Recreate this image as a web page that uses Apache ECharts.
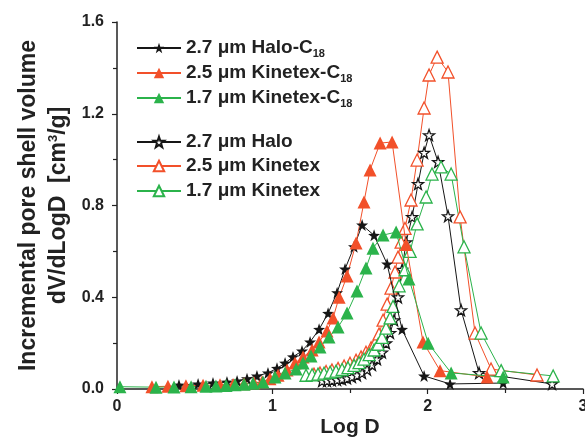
<!DOCTYPE html>
<html><head><meta charset="utf-8">
<script src="https://cdn.jsdelivr.net/npm/echarts@6/dist/echarts.min.js"></script>
<style>html,body{margin:0;padding:0;background:#fff}#c{width:585px;height:437px}</style>
</head><body><div id="c"></div>
<script>
// ---- data (Log D, dV/dLogD) ----
const haloC18_x = [0.399,0.522,0.618,0.708,0.773,0.837,0.901,0.972,1.030,1.082,1.133,1.191,1.243,1.301,1.359,1.417,1.468,1.526,1.578,1.655,1.739,1.835,1.977,2.144,2.486];
const haloC18_y = [0.017,0.022,0.026,0.030,0.035,0.045,0.057,0.070,0.090,0.113,0.140,0.166,0.205,0.260,0.330,0.420,0.523,0.620,0.715,0.670,0.545,0.260,0.057,0.022,0.026];

const kin25C18_x = [0.225,0.328,0.444,0.554,0.663,0.747,0.818,0.882,0.934,0.985,1.037,1.095,1.146,1.198,1.256,1.301,1.352,1.391,1.430,1.481,1.539,1.590,1.629,1.694,1.771,1.861,1.970,2.080,2.383];
const kin25C18_y = [0.010,0.012,0.014,0.016,0.018,0.020,0.023,0.027,0.032,0.045,0.060,0.083,0.113,0.140,0.170,0.205,0.253,0.310,0.400,0.493,0.636,0.815,0.955,1.072,1.077,0.630,0.205,0.080,0.052];

const kin17C18_x = [0.019,0.251,0.367,0.477,0.573,0.637,0.702,0.760,0.818,0.876,0.940,1.017,1.082,1.153,1.198,1.249,1.307,1.365,1.423,1.481,1.545,1.603,1.648,1.713,1.797,1.880,2.003,2.151,2.486];
const kin17C18_y = [0.010,0.008,0.009,0.010,0.012,0.013,0.015,0.018,0.021,0.025,0.031,0.052,0.070,0.087,0.113,0.144,0.183,0.227,0.270,0.331,0.427,0.527,0.614,0.671,0.684,0.480,0.200,0.070,0.052];

const halo_x = [1.320,1.352,1.384,1.417,1.449,1.481,1.513,1.545,1.578,1.610,1.642,1.674,1.706,1.732,1.758,1.784,1.809,1.835,1.861,1.900,1.938,1.977,2.009,2.067,2.131,2.215,2.331,2.801];
const halo_y = [0.035,0.036,0.038,0.040,0.043,0.047,0.053,0.060,0.070,0.085,0.105,0.130,0.160,0.200,0.245,0.300,0.400,0.520,0.640,0.750,0.894,1.030,1.107,0.990,0.754,0.344,0.070,0.022];

const kin25_x = [1.268,1.307,1.346,1.384,1.423,1.462,1.500,1.539,1.571,1.603,1.636,1.661,1.687,1.713,1.739,1.764,1.790,1.809,1.829,1.854,1.893,1.932,1.977,2.009,2.061,2.131,2.209,2.305,2.408,2.704];
const kin25_y = [0.065,0.070,0.076,0.083,0.090,0.100,0.112,0.125,0.140,0.160,0.180,0.200,0.240,0.300,0.370,0.440,0.510,0.575,0.640,0.700,0.824,0.998,1.225,1.369,1.447,1.382,0.750,0.244,0.087,0.061];

const kin17_x = [1.217,1.256,1.294,1.333,1.372,1.410,1.449,1.487,1.526,1.558,1.590,1.623,1.655,1.681,1.706,1.732,1.758,1.777,1.816,1.854,1.887,1.932,1.990,2.028,2.086,2.151,2.234,2.344,2.473,2.808];
const kin17_y = [0.060,0.062,0.065,0.069,0.073,0.078,0.085,0.093,0.103,0.115,0.130,0.150,0.170,0.195,0.225,0.265,0.310,0.360,0.450,0.520,0.600,0.720,0.837,0.937,0.968,0.937,0.620,0.244,0.080,0.057];

const seriesNames = ['2.7 μm Halo-C18','2.5 μm Kinetex-C18','1.7 μm Kinetex-C18','2.7 μm Halo','2.5 μm Kinetex','1.7 μm Kinetex'];
const yTicks = [0, 0.4, 0.8, 1.2, 1.6];
const xTicks = [0, 1, 2, 3];

// ---- styling ----
const BLACK = '#161616', RED = '#f2502a', GREEN = '#2bb34b';
const FONT = 'Arial, "Liberation Sans", sans-serif';
const STAR = 'path://M0,-10 L2.35,-3.24 L9.51,-3.09 L3.8,1.24 L5.88,8.09 L0,4 L-5.88,8.09 L-3.8,1.24 L-9.51,-3.09 L-2.35,-3.24 Z';

function pts(xs, ys){ return xs.map((x,i)=>[x, ys[i]]); }
function mk(name, xs, ys, symbol, color, filled, size){
  return {
    type:'line', name, data: pts(xs, ys), symbol, symbolSize: size,
    lineStyle:{color, width:1}, 
    itemStyle:{color: filled ? color : '#ffffff', borderColor: color, borderWidth: filled ? 0 : 1.3},
    emphasis:{disabled:true}, animation:false, z: filled ? 3 : 2
  };
}
const series = [
  mk(seriesNames[3], halo_x, halo_y, STAR, BLACK, false, 11),
  mk(seriesNames[4], kin25_x, kin25_y, 'triangle', RED, false, 12),
  mk(seriesNames[5], kin17_x, kin17_y, 'triangle', GREEN, false, 12),
  mk(seriesNames[0], haloC18_x, haloC18_y, STAR, BLACK, true, 12),
  mk(seriesNames[1], kin25C18_x, kin25C18_y, 'triangle', RED, true, 13),
  mk(seriesNames[2], kin17C18_x, kin17C18_y, 'triangle', GREEN, true, 13),
];

const rowCenters = [43, 68, 93, 137, 161, 186];
const legends = seriesNames.map((n, i) => ({
  data:[n], orient:'vertical', left:131, top: rowCenters[i] - 10,
  itemWidth:44, itemHeight:13, selectedMode:false,
  formatter: s => s.replace('C18', 'C{sub|18}'),
  textStyle:{fontFamily:FONT, fontSize:19, fontWeight:'bold', color:'#222', lineHeight:20,
    rich:{sub:{fontFamily:FONT, fontSize:11, fontWeight:'bold', color:'#222', padding:[12,0,0,0]}}}
}));

const chart = echarts.init(document.getElementById('c'), null, {renderer:'canvas'});
chart.setOption({
  backgroundColor:'#fff',
  animation:false,
  grid:{left:117, right:2, top:22, bottom:48, outerBoundsMode:'none', containLabel:false},
  legend: legends,
  xAxis:{
    type:'value', min:xTicks[0], max:xTicks[xTicks.length-1], interval:1,
    name:'Log D', nameLocation:'middle', nameGap:28, nameMoveOverlap:false,
    nameTextStyle:{fontFamily:FONT, fontSize:21, fontWeight:'bold', color:'#222'},
    axisLine:{show:true, lineStyle:{color:'#222', width:1.5}},
    axisTick:{show:true, length:5, lineStyle:{color:'#222', width:1.2}},
    minorTick:{show:true, splitNumber:2, length:4, lineStyle:{color:'#222', width:1.2}},
    axisLabel:{fontFamily:FONT, fontSize:16, fontWeight:'bold', color:'#222', margin:10},
    splitLine:{show:false}
  },
  yAxis:{
    type:'value', min:yTicks[0], max:yTicks[yTicks.length-1], interval:0.4,
    name:'Incremental pore shell volume\ndV/dLogD  [cm{sup|3}/g]', nameLocation:'middle', nameGap:43, nameRotate:90, nameMoveOverlap:false,
    nameTextStyle:{fontFamily:FONT, fontSize:23, fontWeight:'bold', color:'#222', lineHeight:30,
      rich:{sup:{fontFamily:FONT, fontSize:13, fontWeight:'bold', color:'#222', padding:[0,0,12,0]}}},
    axisLine:{show:true, lineStyle:{color:'#222', width:1.5}},
    axisTick:{show:true, length:5, lineStyle:{color:'#222', width:1.2}},
    minorTick:{show:true, splitNumber:2, length:4, lineStyle:{color:'#222', width:1.2}},
    axisLabel:{fontFamily:FONT, fontSize:16, fontWeight:'bold', color:'#222', margin:13, formatter: v => v.toFixed(1)},
    splitLine:{show:false}
  },
  series
});
</script></body></html>
